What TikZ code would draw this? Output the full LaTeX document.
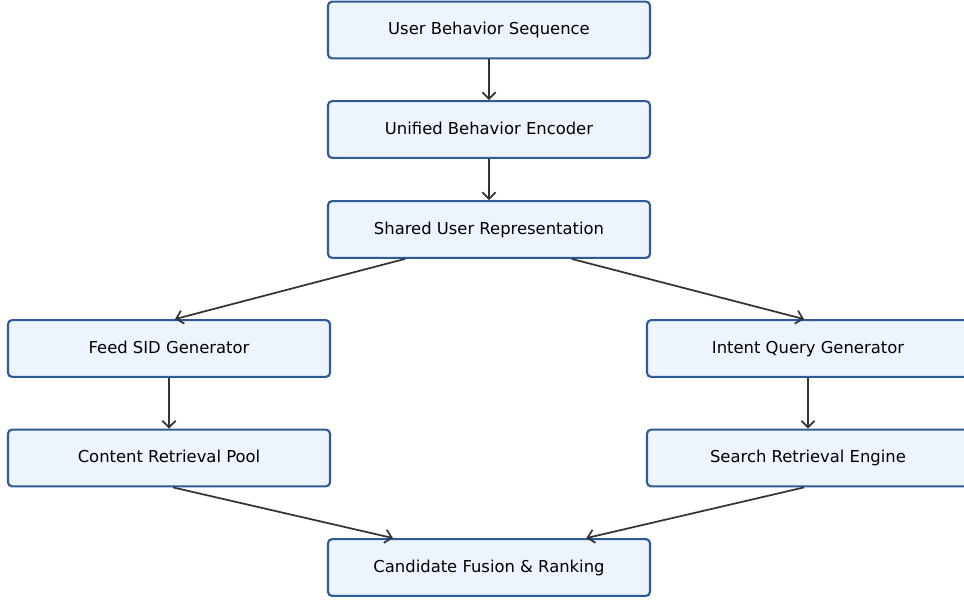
\documentclass[tikz,border=0pt]{standalone}
\usepackage{fontspec}
\setmainfont{DejaVu Sans}
\usetikzlibrary{arrows.meta}
\definecolor{boxline}{HTML}{2E5B98}
\definecolor{boxfill}{HTML}{EEF4FE}
\definecolor{arrowline}{HTML}{333333}

\begin{document}
\begin{tikzpicture}
            [x=0.75pt,y=-0.75pt,
             every node/.style={draw=boxline,line width=1.6pt,fill=boxfill,rounded corners=3pt,
               minimum width=241.5pt,minimum height=42.5pt,text height=.9em,text depth=.2em,
               font=\fontsize{12.3}{14}\selectfont},
             flow/.style={draw=arrowline,line width=1.3pt,-{Straight Barb[length=5pt,width=10pt]}}]
            \useasboundingbox (0,0) rectangle (964,601);
            \node (seq) at (489,30) {User Behavior Sequence};
            \node (enc) at (489,129.5) {Unified Behavior Encoder};
            \node (rep) at (489,229.5) {Shared User Representation};
            \node (feed) at (169,348.5) {Feed SID Generator};
            \node (intent) at (808,348.5) {Intent Query Generator};
            \node (pool) at (169,458) {Content Retrieval Pool};
            \node (search) at (808,458) {Search Retrieval Engine};
            \node (fusion) at (489,567.5) {Candidate Fusion \& Ranking};
            
            \path [flow] (seq) -- (enc);
            \path [flow] (enc) -- (rep);
            \path [flow] ([xshift=-63pt]rep.south) -- ([xshift=4.5pt]feed.north);
            \path [flow] ([xshift=62pt]rep.south) -- ([xshift=-3pt]intent.north);
            \path [flow] (feed) -- (pool);
            \path [flow] (intent) -- (search);
            \path [flow] ([xshift=3pt]pool.south) -- ([xshift=-72pt]fusion.north);
            \path [flow] ([xshift=-3pt]search.south) -- ([xshift=73pt]fusion.north);
        \end{tikzpicture}
\end{document}
